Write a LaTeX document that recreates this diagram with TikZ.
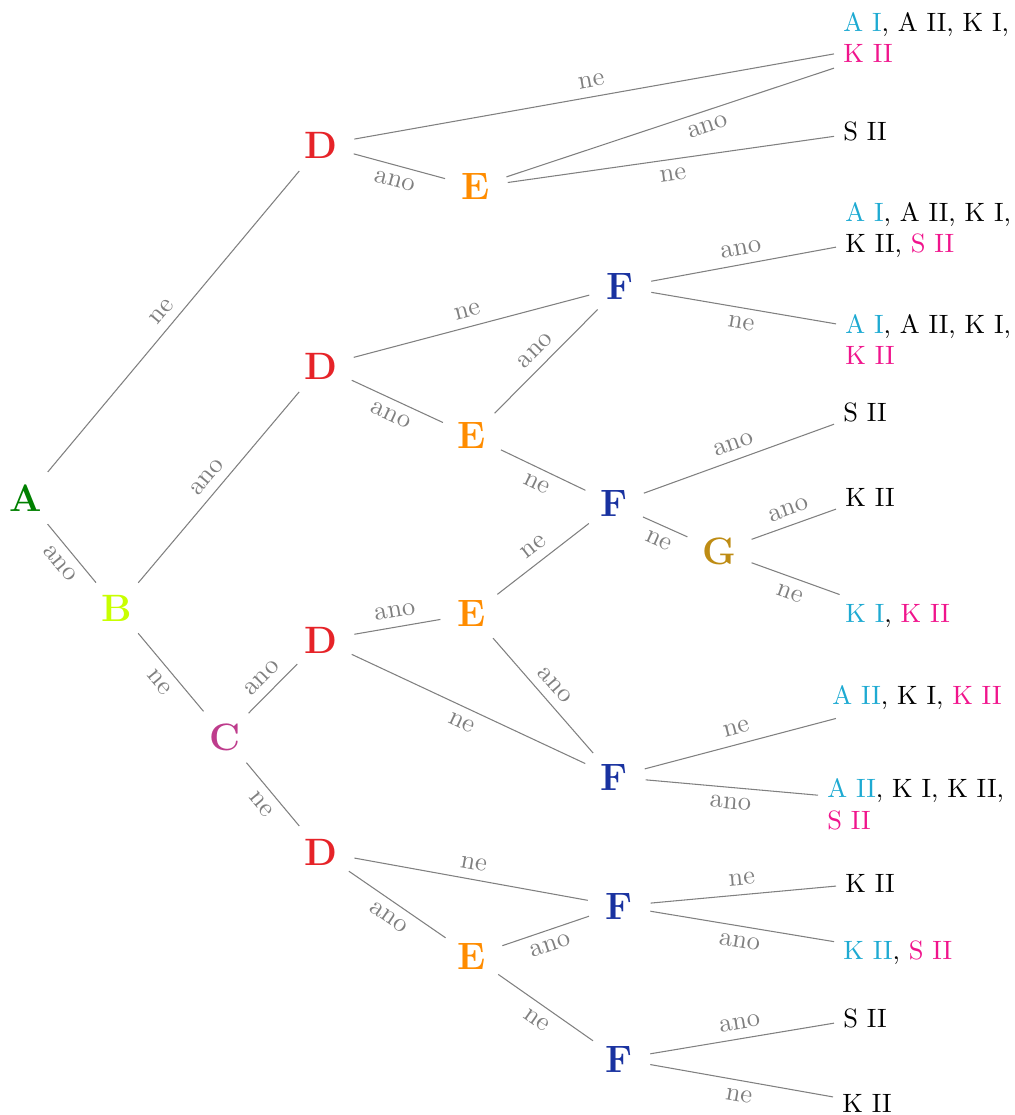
\documentclass[tikz,border=0pt]{standalone}
\definecolor{cA}{RGB}{0,128,0}
\definecolor{cB}{RGB}{200,255,0}
\definecolor{cC}{RGB}{190,60,140}
\definecolor{cD}{RGB}{230,35,40}
\definecolor{cE}{RGB}{255,140,0}
\definecolor{cF}{RGB}{25,50,160}
\definecolor{cG}{RGB}{190,140,20}
\definecolor{cyanT}{RGB}{30,170,210}
\definecolor{pinkT}{RGB}{240,20,140}
\newcommand\cy[1]{\textcolor{cyanT}{#1}}
\newcommand\pk[1]{\textcolor{pinkT}{#1}}
\tikzset{
  letter/.style={circle, font=\Large\bfseries},
  leaf/.style={anchor=base west, align=left},
  branch/.style={draw=gray, line width=0.4pt},
  lbl/.style={midway, sloped, text=gray},
}
\begin{document}
\begin{tikzpicture}[x=0.3774pt, y=-0.3774pt]
\useasboundingbox (0,0) rectangle (1014,1115);

% decision nodes
\node[letter, text=cA] (A)  at (26,498)  {A};
\node[letter, text=cB] (B)  at (117,608) {B};
\node[letter, text=cC] (C)  at (225,737) {C};
\node[letter, text=cD] (D1) at (321,145) {D};
\node[letter, text=cE] (E1) at (476,187) {E};
\node[letter, text=cD] (D2) at (321,366) {D};
\node[letter, text=cE] (E2) at (472,436) {E};
\node[letter, text=cF] (F1) at (620,287) {F};
\node[letter, text=cF] (F2) at (614,504) {F};
\node[letter, text=cG] (G)  at (719,551) {G};
\node[letter, text=cD] (D3) at (321,640) {D};
\node[letter, text=cE] (E3) at (472,614) {E};
\node[letter, text=cF] (F3) at (614,777) {F};
\node[letter, text=cD] (D4) at (321,852) {D};
\node[letter, text=cE] (E4) at (472,956) {E};
\node[letter, text=cF] (F4) at (619,906) {F};
\node[letter, text=cF] (F5) at (619,1059) {F};

% outcomes (base = baseline of the last line)
\node[leaf] (L1)  at (834,63)   {\cy{A I}, A II, K I,\\ \pk{K II}};
\node[leaf] (L2)  at (834,141)  {S II};
\node[leaf] (L3)  at (836,253)  {\cy{A I}, A II, K I,\\ K II, \pk{S II}};
\node[leaf] (L4)  at (836,365)  {\cy{A I}, A II, K I,\\ \pk{K II}};
\node[leaf] (L5)  at (834,422)  {S II};
\node[leaf] (L6)  at (836,506)  {K II};
\node[leaf] (L7)  at (836,622)  {\cy{K I}, \pk{K II}};
\node[leaf] (L8)  at (823,704)  {\cy{A II}, K I, \pk{K II}};
\node[leaf] (L9)  at (818,829)  {\cy{A II}, K I, K II,\\ \pk{S II}};
\node[leaf] (L10) at (836,892)  {K II};
\node[leaf] (L11) at (834,959)  {\cy{K II}, \pk{S II}};
\node[leaf] (L12) at (834,1027) {S II};
\node[leaf] (L13) at (833,1112) {K II};

% branches
\draw[branch] (A) -- node[lbl, below] {ano} (B);
\draw[branch] (A) -- node[lbl, above] {ne} (D1);
\draw[branch] (B) -- node[lbl, above] {ano} (D2);
\draw[branch] (B) -- node[lbl, below] {ne} (C);
\draw[branch] (C) -- node[lbl, above] {ano} (D3);
\draw[branch] (C) -- node[lbl, below] {ne} (D4);

\draw[branch] (D1) -- node[lbl, above] {ne} (L1);
\draw[branch] (D1) -- node[lbl, below] {ano} (E1);
\draw[branch] (E1) -- node[lbl, below, pos=0.6] {ano} (L1);
\draw[branch] (E1) -- node[lbl, below] {ne} (L2);

\draw[branch] (D2) -- node[lbl, above] {ne} (F1);
\draw[branch] (D2) -- node[lbl, below] {ano} (E2);
\draw[branch] (E2) -- node[lbl, above] {ano} (F1);
\draw[branch] (E2) -- node[lbl, below] {ne} (F2);
\draw[branch] (F1) -- node[lbl, above] {ano} (L3);
\draw[branch] (F1) -- node[lbl, below] {ne} (L4);
\draw[branch] (F2) -- node[lbl, above] {ano} (L5);
\draw[branch] (F2) -- node[lbl, below] {ne} (G);
\draw[branch] (G) -- node[lbl, above] {ano} (L6);
\draw[branch] (G) -- node[lbl, below] {ne} (L7);

\draw[branch] (D3) -- node[lbl, above] {ano} (E3);
\draw[branch] (D3) -- node[lbl, below] {ne} (F3);
\draw[branch] (E3) -- node[lbl, above] {ne} (F2);
\draw[branch] (E3) -- node[lbl, above] {ano} (F3);
\draw[branch] (F3) -- node[lbl, above] {ne} (L8);
\draw[branch] (F3) -- node[lbl, below] {ano} (L9);

\draw[branch] (D4) -- node[lbl, above] {ne} (F4);
\draw[branch] (D4) -- node[lbl, below] {ano} (E4);
\draw[branch] (E4) -- node[lbl, below] {ano} (F4);
\draw[branch] (E4) -- node[lbl, below] {ne} (F5);
\draw[branch] (F4) -- node[lbl, above] {ne} (L10);
\draw[branch] (F4) -- node[lbl, below] {ano} (L11);
\draw[branch] (F5) -- node[lbl, above] {ano} (L12);
\draw[branch] (F5) -- node[lbl, below] {ne} (L13);
\end{tikzpicture}
\end{document}
